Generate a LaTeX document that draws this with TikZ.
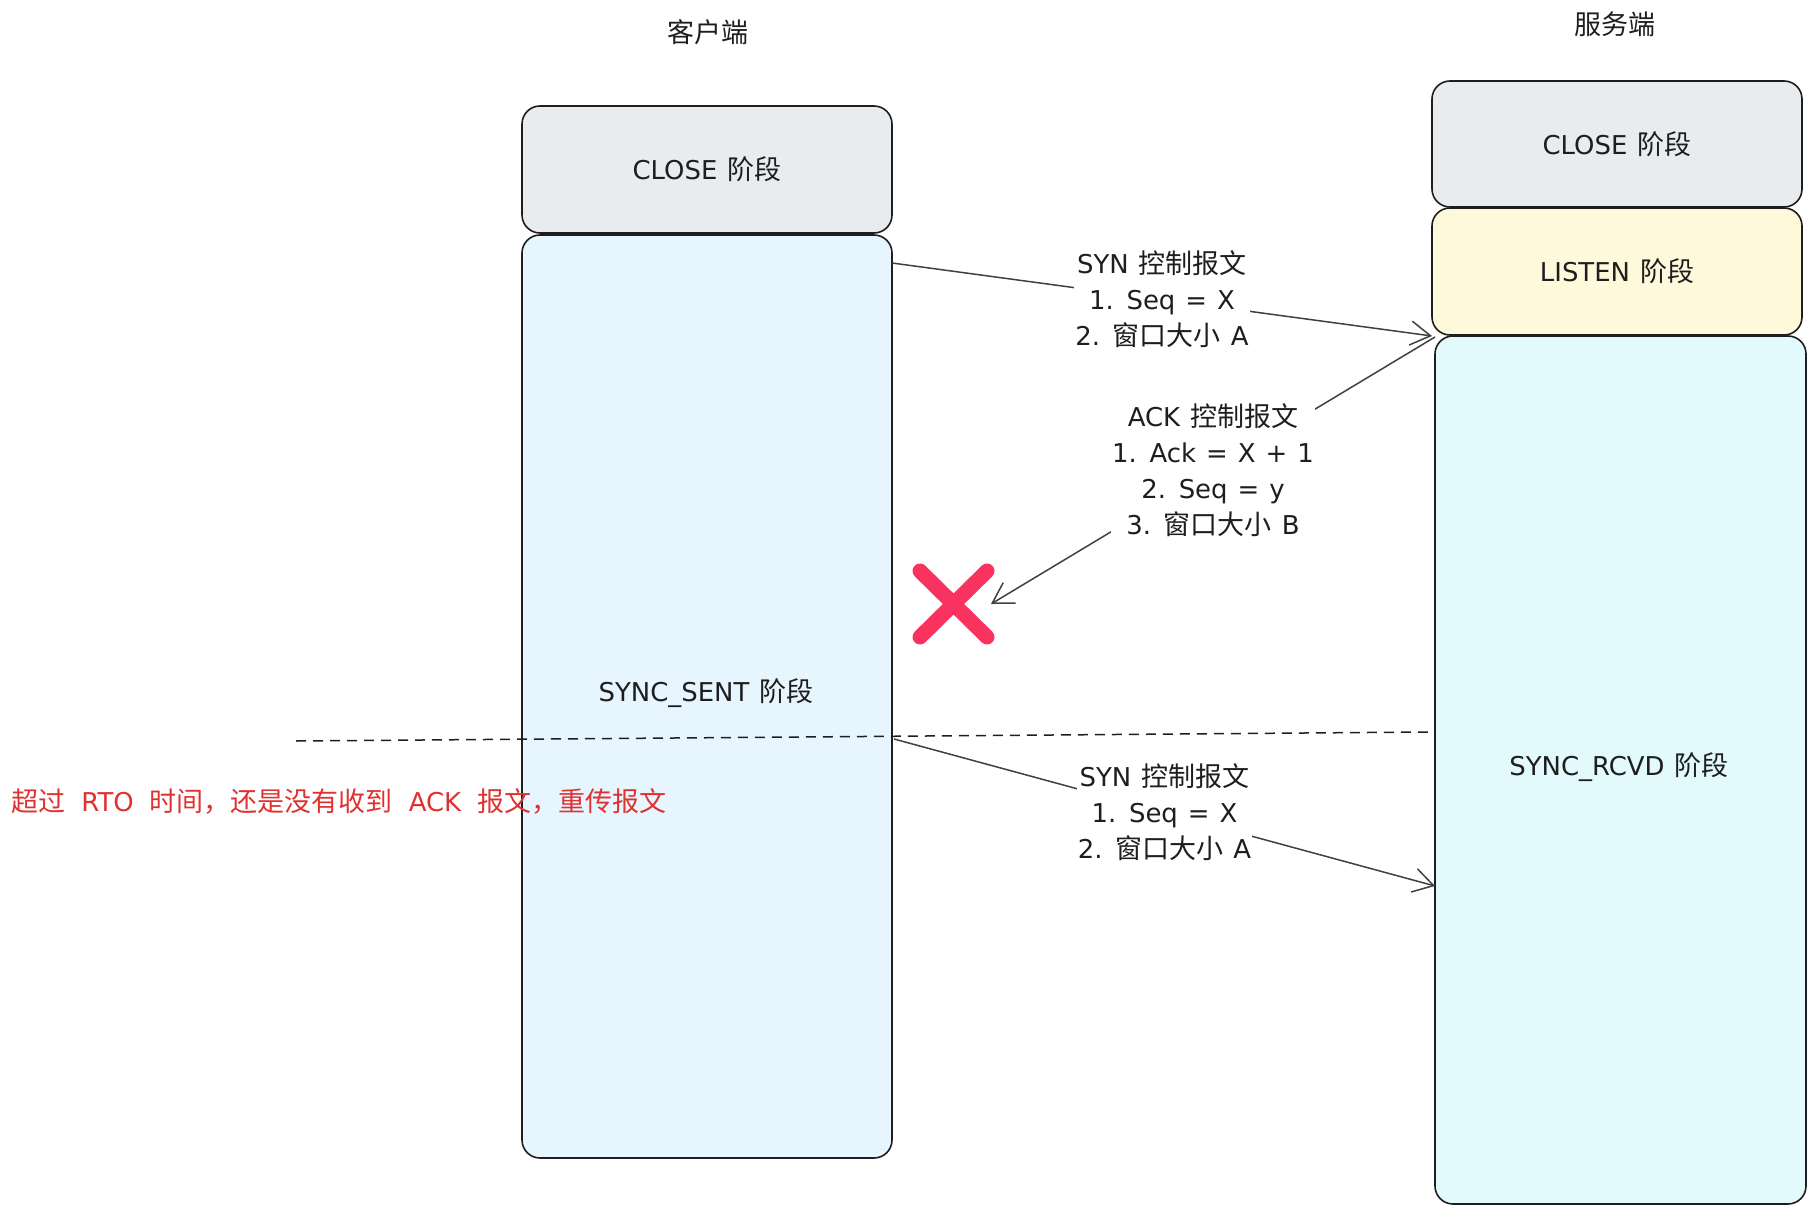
\documentclass[tikz,border=0pt]{standalone}
\usepackage{fontspec}
\setmainfont[Scale=0.96]{DejaVu Sans}
\newfontfamily\zhfont{Noto Sans CJK SC}
\newcommand{\zhtext}[1]{{\zhfont #1}}
\newcommand{\labelfont}{\fontsize{27}{36}\selectfont\spaceskip=10pt plus 2pt\relax}
\newcommand{\notefont}{\fontsize{27}{36}\selectfont\spaceskip=16pt plus 2pt\relax}
\usetikzlibrary{arrows.meta}
\definecolor{ink}{HTML}{1E1E1E}
\definecolor{closefill}{HTML}{E9ECEF}
\definecolor{sentfill}{HTML}{E7F5FF}
\definecolor{listenfill}{HTML}{FFF9DB}
\definecolor{rcvdfill}{HTML}{E3FAFC}
\definecolor{rtored}{HTML}{E03131}
\definecolor{crossred}{RGB}{250,50,95}
\begin{document}
\begin{tikzpicture}[x=1pt,y=-1pt,
  every node/.style={font=\labelfont, text=ink},
  phase/.style={draw=ink, line width=1.6pt, rounded corners=18pt, inner sep=0pt},
  msg/.style={draw=ink!85, line width=1.5pt,
    -{Straight Barb[length=20pt,width=24pt,line width=1.5pt]}},
  msglabel/.style={fill=white, inner sep=1pt, align=center},
  splitline/.style={draw=ink, line width=1.5pt, dash pattern=on 10pt off 7pt},
  crossmark/.style={draw=crossred, line width=15pt, line cap=round}]
\useasboundingbox (0,0) rectangle (1815,1214);

% titles
\node (ctitle) at (708,32) {\zhtext{客户端}};
\node (stitle) at (1615,24) {\zhtext{服务端}};

% client phases
\node[phase, fill=closefill, minimum width=370pt, minimum height=127pt] (cclose) at (707,169.5) {CLOSE \zhtext{阶段}};
\node[phase, fill=sentfill, minimum width=370pt, minimum height=923pt] (csent) at (707,696.5) {};
\node (csenttext) at (706,693) {SYNC\_SENT \zhtext{阶段}};

% server phases
\node[phase, fill=closefill, minimum width=370pt, minimum height=126pt] (sclose) at (1617,144) {CLOSE \zhtext{阶段}};
\node[phase, fill=listenfill, minimum width=370pt, minimum height=127pt] (slisten) at (1617,271.5) {LISTEN \zhtext{阶段}};
\node[phase, fill=rcvdfill, minimum width=371pt, minimum height=868pt] (srcvd) at (1620.5,770) {};
\node (srcvdtext) at (1619,767) {SYNC\_RCVD \zhtext{阶段}};

% timeout divider
\coordinate (dl) at (296,741);
\coordinate (dr) at (1430,732);
\draw[splitline] (dl) -- (dr);

% connector end points
\coordinate (s1a) at (892,263);
\coordinate (s1b) at (1432,336);
\coordinate (a1a) at (1435,337);
\coordinate (a1b) at (991,604);
\coordinate (s2a) at (894,739);
\coordinate (s2b) at (1435,886);

% first SYN
\draw[msg] (s1a) -- node[msglabel] (syn1) {SYN \zhtext{控制报文}\\1. Seq = X\\2. \zhtext{窗口大小} A} (s1b);
% ACK (lost)
\draw[msg] (a1a) -- node[msglabel] (ack) {ACK \zhtext{控制报文}\\1. Ack = X + 1\\2. Seq = y\\3. \zhtext{窗口大小} B} (a1b);
% retransmitted SYN
\draw[msg] (s2a) -- node[msglabel] (syn2) {SYN \zhtext{控制报文}\\1. Seq = X\\2. \zhtext{窗口大小} A} (s2b);

% lost marker
\draw[crossmark] (920,571) -- (987,637) (987,571) -- (920,637);

% timeout note
\node[anchor=west, text=rtored, font=\notefont] (rto) at (8,802) {\zhtext{超过} RTO \zhtext{时间，还是没有收到} ACK \zhtext{报文，重传报文}};
\end{tikzpicture}
\end{document}
